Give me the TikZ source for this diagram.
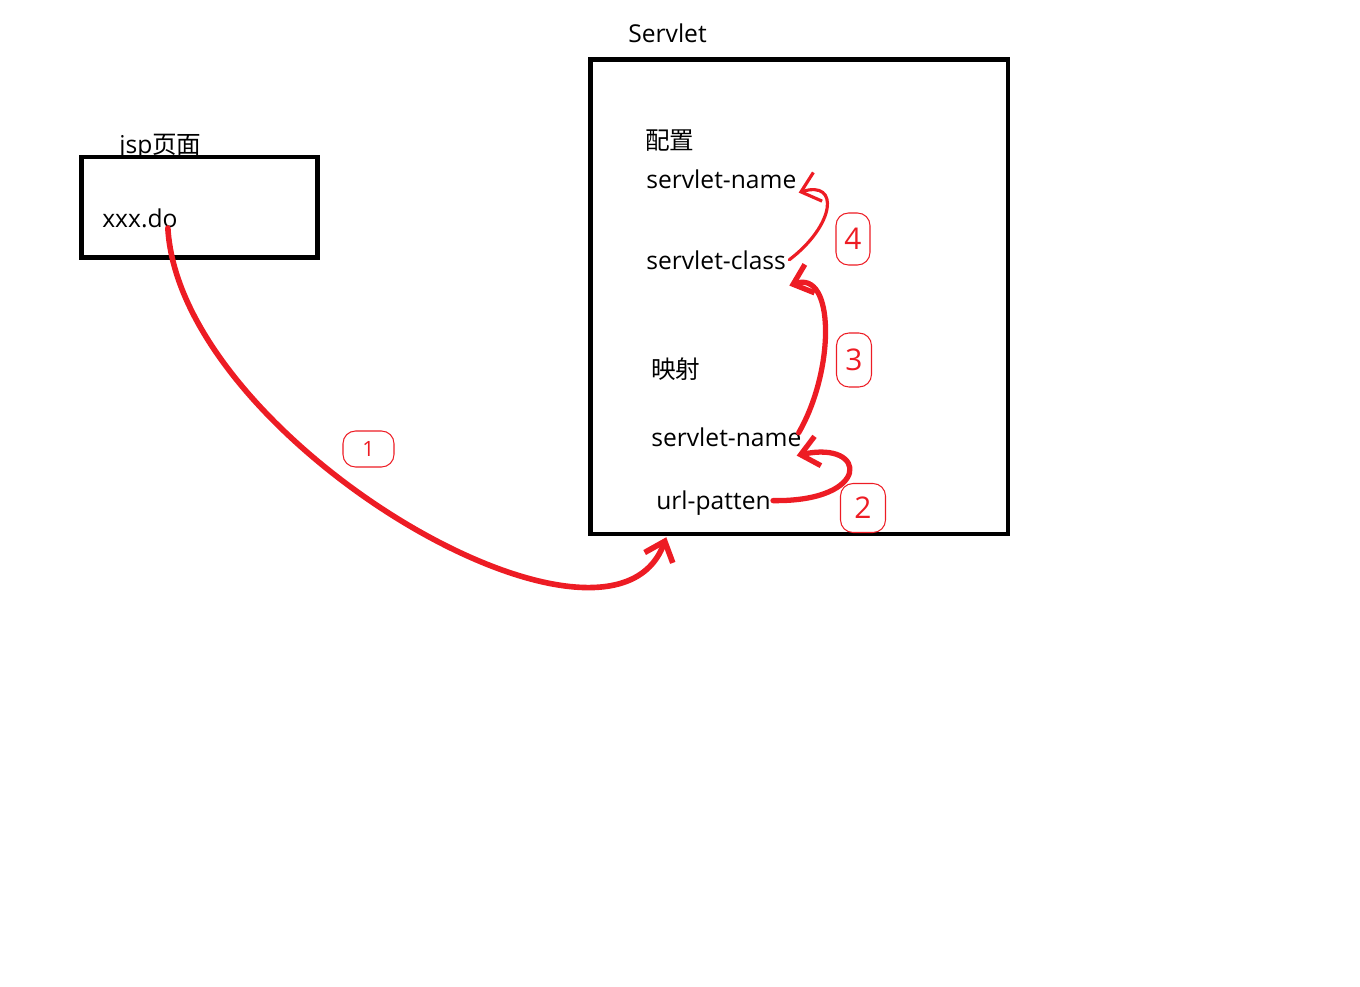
\documentclass[tikz,border=0pt]{standalone}
\usepackage{fontspec}
\setmainfont{Open Sans}
\newfontfamily\cjkfont{Noto Sans CJK SC}
\usetikzlibrary{arrows.meta,calc}
\definecolor{penred}{RGB}{237,28,36}

\begin{document}
\begin{tikzpicture}[x=0.02cm,y=-0.02cm,
  txt/.style={anchor=base west, inner sep=0pt, font=\fontsize{14}{16}\selectfont},
  box/.style={draw, rectangle, line width=2.6pt},
  pen/.style={penred, line width=3pt, line cap=round, -{Straight Barb[length=3.5mm,width=6mm]}},
  tag/.style={draw=penred, text=penred, line width=0.6pt, rounded corners=2.5mm, inner sep=0pt, font=\fontsize{17}{17}\selectfont}]
\useasboundingbox (0,0) rectangle (1360,987);
\node[box, minimum width=4.72cm, minimum height=2.01cm] (jsp) at (199.5,207.25) {};
\node[box, minimum width=8.35cm, minimum height=9.49cm] (servlet) at (799.25,296.75) {};
\node[txt] (jsptitle) at (119,153) {jsp{\cjkfont 页面}};
\node[txt] (xxx) at (102,227) {xxx.do};
\node[txt] (title) at (628,42) {Servlet};
\node[txt] (cfg) at (645,149) {\cjkfont 配置};
\node[txt] (name1) at (646,188) {servlet-name};
\node[txt] (class) at (646,269) {servlet-class};
\node[txt] (map) at (651,378) {\cjkfont 映射};
\node[txt] (name2) at (651,446) {servlet-name};
\node[txt] (url) at (656,509) {url-patten};
\coordinate (s1) at ($(xxx.base east)+(-10,1)$);
\coordinate (e1) at ($(servlet.south)+(-133,1)$);
\draw[pen, line width=3.2pt] (s1) .. controls (180,440) and (610,690) .. (e1);
\draw[pen, line width=1.8pt] ($(class.east)+(3,0)$) .. controls (835,225) and (840,180) .. ($(name1.south east)+(2,4)$);
\draw[pen] ($(name2.east)+(-3,-4)$) .. controls (835,370) and (835,270) .. ($(class.south east)+(3,16)$);
\draw[pen] ($(url.east)+(2,-2)$) .. controls (872,502) and (868,440) .. ($(name2.south east)+(-5,9)$);
\node[tag, minimum width=1.02cm, minimum height=0.72cm, font=\fontsize{12}{12}\selectfont] (t1) at (368.5,449) {1};
\node[tag, minimum width=0.68cm, minimum height=1.04cm] (t4) at (853,239) {4};
\node[tag, minimum width=0.7cm, minimum height=1.08cm] (t3) at (854,360) {3};
\node[tag, minimum width=0.9cm, minimum height=0.98cm] (t2) at (863,508) {2};
\end{tikzpicture}
\end{document}
